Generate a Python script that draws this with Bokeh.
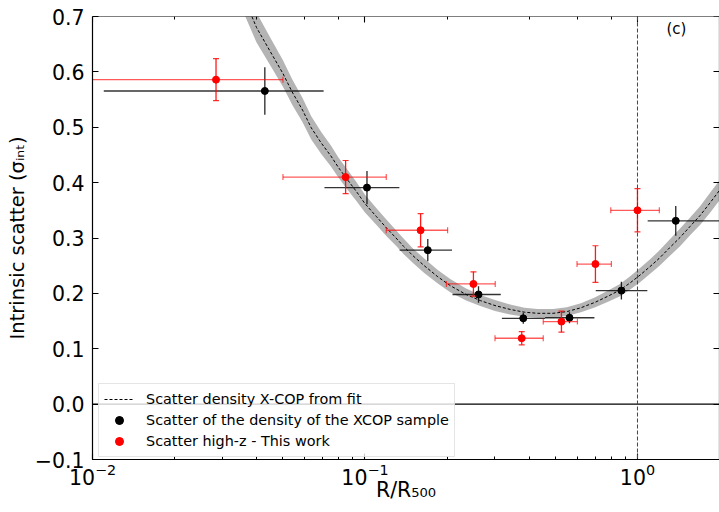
import numpy as np
from bokeh.plotting import figure
from bokeh.models import (ColumnDataSource, Span, Label, Legend, LegendItem, LogAxis,
                          LinearAxis, FixedTicker, CustomJSTickFormatter, LogTicker)
from bokeh.embed import file_html
from bokeh.resources import INLINE

FONT = "DejaVu Sans"

# ---------------- data ----------------
# X-COP sample (black)
xcop_r = [0.0429, 0.1017, 0.170, 0.261, 0.381, 0.563, 0.873, 1.382]
xcop_r_lo = [0.011, 0.071, 0.134, 0.2095, 0.318, 0.458, 0.703, 1.09]
xcop_r_hi = [0.0705, 0.1337, 0.2086, 0.315, 0.458, 0.695, 1.087, 2.6]
xcop_s = [0.5655, 0.391, 0.278, 0.198, 0.155, 0.156, 0.205, 0.331]
xcop_err = [0.043, 0.030, 0.020, 0.015, 0.010, 0.010, 0.016, 0.027]

# high-z, this work (red)
hz_r = [0.0284, 0.0849, 0.160, 0.250, 0.376, 0.526, 0.701, 1.0]
hz_r_lo = [0.005, 0.050, 0.1197, 0.199, 0.300, 0.451, 0.600, 0.798]
hz_r_hi = [0.050, 0.1197, 0.201, 0.3006, 0.451, 0.602, 0.802, 1.203]
hz_s = [0.586, 0.410, 0.314, 0.217, 0.119, 0.149, 0.253, 0.350]
hz_err = [0.038, 0.030, 0.030, 0.022, 0.012, 0.019, 0.033, 0.039]

# fit curve and half width of its grey band
fit_x = [0.036, 0.040, 0.045, 0.050, 0.054, 0.059, 0.0635, 0.069, 0.075, 0.080, 0.086,
         0.093, 0.1, 0.11, 0.12, 0.13, 0.1385, 0.15, 0.165, 0.185, 0.2055, 0.235,
         0.265, 0.30, 0.341, 0.385, 0.43, 0.49, 0.55, 0.62, 0.70, 0.78, 0.863, 0.94,
         1.022, 1.11, 1.2, 1.31, 1.433, 1.56, 1.7, 1.85, 2.0]
fit_y = [0.733, 0.680, 0.636, 0.597, 0.564, 0.531, 0.499, 0.472, 0.448, 0.427, 0.406,
         0.384, 0.362, 0.339, 0.318, 0.300, 0.285, 0.268, 0.250, 0.230, 0.214, 0.198,
         0.187, 0.178, 0.171, 0.166, 0.164, 0.164, 0.167, 0.174, 0.184, 0.195, 0.206,
         0.219, 0.233, 0.248, 0.263, 0.282, 0.301, 0.321, 0.341, 0.364, 0.386]
fit_err = [0.028, 0.027, 0.025, 0.024, 0.023, 0.022, 0.021, 0.020, 0.019, 0.018, 0.018,
           0.017, 0.016, 0.015, 0.015, 0.014, 0.014, 0.013, 0.013, 0.012, 0.012, 0.011,
           0.010, 0.010, 0.009, 0.008, 0.008, 0.008, 0.008, 0.008, 0.009, 0.010, 0.011,
           0.012, 0.013, 0.013, 0.014, 0.015, 0.016, 0.016, 0.017, 0.018, 0.018]

y_ticks = [-0.1, 0.0, 0.1, 0.2, 0.3, 0.4, 0.5, 0.6, 0.7]
x_min, x_max = 0.01, 2.0
y_min, y_max = -0.1, 0.7
r500_line = 1.0
zero_line = 0.0

# ---------------- figure ----------------
p = figure(width=719, height=512, x_axis_type="log", x_range=(x_min, x_max),
           y_range=(y_min, y_max), output_backend="svg", toolbar_location=None,
           min_border_left=92, min_border_right=0, min_border_top=16,
           min_border_bottom=53)
p.xgrid.visible = False
p.ygrid.visible = False
p.outline_line_color = None
p.background_fill_color = "white"
p.border_fill_color = "white"

# grey band and fit line
band_lo = [y - e for y, e in zip(fit_y, fit_err)]
band_hi = [y + e for y, e in zip(fit_y, fit_err)]
p.varea(x=fit_x, y1=band_lo, y2=band_hi, fill_color="#b4b4b4", fill_alpha=1.0)
fit_line = p.line(fit_x, fit_y, line_color="black", line_dash="3 2", line_width=1)

# spans
p.add_layout(Span(location=zero_line, dimension="width", line_color="black",
                  line_width=1.3))
p.add_layout(Span(location=r500_line, dimension="height", line_color="#444444",
                  line_width=1, line_dash="4 2"))

# black points
bsrc = ColumnDataSource(dict(r=xcop_r, rlo=xcop_r_lo, rhi=xcop_r_hi, s=xcop_s,
                             slo=[s - e for s, e in zip(xcop_s, xcop_err)],
                             shi=[s + e for s, e in zip(xcop_s, xcop_err)]))
p.segment(x0="rlo", y0="s", x1="rhi", y1="s", source=bsrc, line_color="black",
          line_alpha=0.8, line_width=1.3)
p.segment(x0="r", y0="slo", x1="r", y1="shi", source=bsrc, line_color="black",
          line_alpha=0.85, line_width=1.3)
black_cross = p.scatter(x="r", y="s", source=bsrc, marker="cross", size=12,
                        line_color="black", line_width=1.3, visible=False)
black_dot = p.scatter(x="r", y="s", source=bsrc, marker="circle", size=7,
                      fill_color="black", line_color="black")

# red points
rsrc = ColumnDataSource(dict(r=hz_r, rlo=hz_r_lo, rhi=hz_r_hi, s=hz_s,
                             slo=[s - e for s, e in zip(hz_s, hz_err)],
                             shi=[s + e for s, e in zip(hz_s, hz_err)]))
p.segment(x0="rlo", y0="s", x1="rhi", y1="s", source=rsrc, line_color="red",
          line_alpha=0.65, line_width=1.3)
p.segment(x0="r", y0="slo", x1="r", y1="shi", source=rsrc, line_color="red",
          line_alpha=0.9, line_width=1.3)
for col in ("slo", "shi"):
    p.scatter(x="r", y=col, source=rsrc, marker="dash", size=6, line_color="red",
              line_alpha=0.8, line_width=1.2)
for col in ("rlo", "rhi"):
    p.scatter(x=col, y="s", source=rsrc, marker="dash", angle=np.pi / 2, size=6,
              line_color="red", line_alpha=0.65, line_width=1.2)
red_cross = p.scatter(x="r", y="s", source=rsrc, marker="cross", size=12,
                      line_color="red", line_width=1.3, visible=False)
red_dot = p.scatter(x="r", y="s", source=rsrc, marker="circle", size=7,
                    fill_color="red", line_color="red")

# panel label
p.add_layout(Label(x=1.39, y=0.677, text="(c)", text_font=FONT, text_font_size="15px",
                   text_align="center", text_baseline="middle", text_color="black"))

# ---------------- axes ----------------
def style_axis(ax):
    ax.axis_line_color = "black"
    ax.axis_line_width = 1.2
    ax.major_tick_line_color = "black"
    ax.major_tick_line_width = 1.1
    ax.major_tick_in = 6
    ax.major_tick_out = 0
    ax.minor_tick_in = 3
    ax.minor_tick_out = 0
    ax.minor_tick_line_width = 1
    ax.major_label_text_font = FONT
    ax.major_label_text_font_size = "20.5px"
    ax.major_label_text_color = "black"
    ax.axis_label_text_font = FONT
    ax.axis_label_text_font_size = "20.5px"
    ax.axis_label_text_font_style = "normal"
    ax.axis_label_text_color = "black"

blank = CustomJSTickFormatter(code="return '';")

xa = p.xaxis[0]
style_axis(xa)
xa.axis_label = "R/R\u2085\u2080\u2080"
xa.major_label_standoff = 3
xa.axis_label_standoff = -10

ya = p.yaxis[0]
style_axis(ya)
ya.ticker = FixedTicker(ticks=y_ticks)
ya.formatter = CustomJSTickFormatter(
    code="return (tick < -1e-9 ? '\\u2212' : '') + Math.abs(tick).toFixed(1);")
ya.minor_tick_line_color = None
ya.axis_label = "Intrinsic scatter (\u03c3\u1d62\u2099\u209c)"
ya.axis_label_text_font_size = "19.5px"
ya.major_label_standoff = 8
ya.axis_label_standoff = 3

top = LogAxis(ticker=LogTicker(), formatter=blank, fixed_location=y_max)
style_axis(top)
top.major_label_text_font_size = "1px"
top.major_label_standoff = 0
p.add_layout(top, "above")

right = LinearAxis(ticker=FixedTicker(ticks=y_ticks), formatter=blank,
                   fixed_location=x_max)
style_axis(right)
right.major_label_text_font_size = "1px"
right.major_label_standoff = 0
right.minor_tick_line_color = None
p.add_layout(right, "right")

# ---------------- legend ----------------
legend = Legend(items=[
    LegendItem(label="Scatter density X-COP from fit", renderers=[fit_line]),
    LegendItem(label="Scatter of the density of the XCOP sample",
               renderers=[black_dot, black_cross]),
    LegendItem(label="Scatter high-z - This work", renderers=[red_dot, red_cross]),
], location=(6, 2))
legend.label_text_font = FONT
legend.label_text_font_size = "14.4px"
legend.label_text_color = "black"
legend.glyph_width = 30
legend.glyph_height = 20
legend.label_height = 20
legend.label_standoff = 12
legend.padding = 5
legend.spacing = 1
legend.margin = 0
legend.border_line_color = "#cccccc"
legend.border_line_width = 1
legend.background_fill_alpha = 0.8
p.add_layout(legend)

open("out.html", "w").write(file_html(p, INLINE))
